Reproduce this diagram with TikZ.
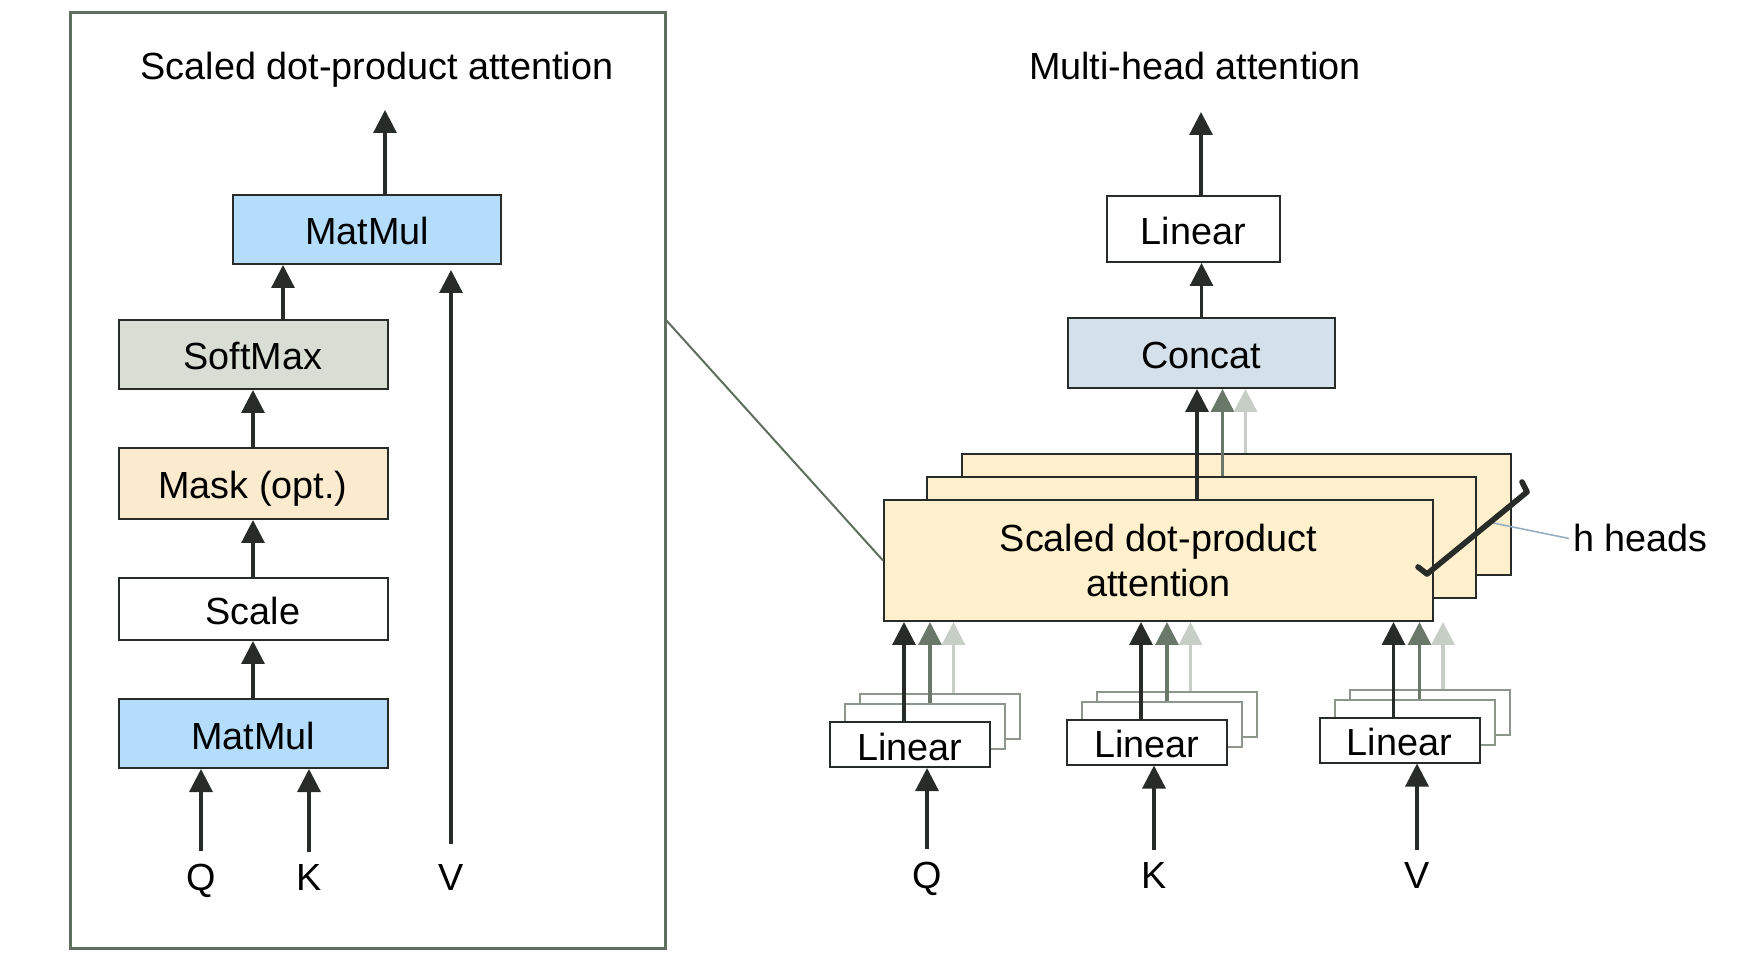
\documentclass[tikz,border=0pt]{standalone}
\usepackage{fontspec}
\setmainfont{Liberation Sans}
\usetikzlibrary{arrows.meta,positioning,calc,backgrounds}
\definecolor{edge}{RGB}{40,44,40}
\definecolor{framegreen}{RGB}{95,110,95}
\definecolor{matblue}{RGB}{180,220,251}
\definecolor{softgray}{RGB}{216,222,212}
\definecolor{maskbeige}{RGB}{250,235,206}
\definecolor{headfill}{RGB}{254,240,205}
\definecolor{concatblue}{RGB}{212,225,234}
\definecolor{midgray}{RGB}{105,120,105}
\definecolor{palegray}{RGB}{198,206,198}
\definecolor{laygray}{RGB}{140,150,140}
\definecolor{hlink}{RGB}{150,175,195}

\begin{document}
\begin{tikzpicture}[
  x=0.5pt, y=-0.5pt, node distance=28.5pt,
  >={Triangle[width=11.5pt,length=11.5pt]},
  font=\fontsize{18.9}{22.5}\selectfont,
  blk/.style={draw=edge, line width=1pt, inner sep=0pt, minimum width=134.5pt,
              minimum height=34.5pt, text height=15.5pt, text depth=0pt},
  lin/.style={blk, fill=white, minimum width=80pt, minimum height=22.5pt},
  lay/.style={lin, draw=laygray},
  hd/.style={draw=edge, line width=1pt, fill=headfill, align=center, inner sep=0pt,
             minimum width=274.5pt, minimum height=60.5pt},
  inl/.style={inner sep=0pt, anchor=base},
  arr/.style={->, line width=1.6pt, draw=edge},
  arrg/.style={arr, draw=midgray},
  arrl/.style={arr, draw=palegray}]
\useasboundingbox (0,0) rectangle (1755,961);

\node[draw=framegreen, line width=1.5pt, inner sep=0pt, minimum width=297.5pt,
      minimum height=467.5pt] (dpframe) at (367.5,480.5) {};
\node[anchor=base] (ttlL) at (377,80) {Scaled dot-product attention};
\node[blk, fill=matblue, minimum width=134pt] (mm2) at (367,229.5) {MatMul};
\node[blk, fill=softgray] (smax) at (253,354.5) {SoftMax};
\node[blk, fill=maskbeige, minimum height=35.5pt, below=of smax] (mask) {Mask (opt.)};
\node[blk, fill=white, minimum height=31pt, below=of mask] (scale) {Scale};
\node[blk, fill=matblue, below=of scale] (mm1) {MatMul};
\node[inl] (ql) at (201,890) {Q};
\node[inl] (kl) at (309,890) {K};
\node[inl] (vl) at (451,890) {V};
\coordinate (outL) at (385,110);
\draw[arr] (mm2.north -| outL) -- (outL);
\draw[arr] ([xshift=15pt]smax.north) -- ([xshift=15pt]smax.north |- mm2.south);
\draw[arr] (mask) -- (smax);
\draw[arr] (scale) -- (mask);
\draw[arr] (mm1) -- (scale);
\draw[arr] ([yshift=6pt]ql.north) -- (ql.north |- mm1.south);
\draw[arr] ([yshift=6pt]kl.north) -- (kl.north |- mm1.south);
\draw[arr, shorten >=2.5pt] ([yshift=10pt]vl.north) -- (vl.north |- mm2.south);

\node[anchor=base] (ttlR) at (1195,80) {Multi-head attention};
\node[blk, fill=white, minimum width=86.5pt, minimum height=33pt] (lintop) at (1193.5,229) {Linear};
\node[blk, fill=concatblue, minimum width=133.5pt, minimum height=35pt] (concat) at (1201.5,353) {Concat};
\node[hd] (sdpa) at (1158.5,560.5) {Scaled dot-product\\attention};
\begin{scope}[on background layer]
  \node[hd] (sdpa3) at ([shift={(78,-46)}]sdpa.center) {};
  \node[hd] (sdpa2) at ([shift={(43,-23)}]sdpa.center) {};
\end{scope}
\coordinate (outR) at (1201,112);
\draw[arr] (lintop.north -| outR) -- (outR);
\draw[arr] (concat.north) -- (concat.north |- lintop.south);
\draw[arr] ([xshift=19.25pt]sdpa.north) -- ([xshift=19.25pt]sdpa.north |- concat.south);
\draw[arrg] ([xshift=10.5pt]sdpa2.north) -- ([xshift=10.5pt]sdpa2.north |- concat.south);
\draw[arrl] ([xshift=4.5pt]sdpa3.north) -- ([xshift=4.5pt]sdpa3.north |- concat.south);

\foreach \n/\x/\y/\o/\s in {q/910/744.5/17/Q, k/1147/742/7/K, v/1399.5/740/17.5/V} {
  \node[lin] (lin\n) at (\x,\y) {Linear};
  \begin{scope}[on background layer]
    \node[lay] (lin\n3) at ([shift={(30,-28)}]lin\n.center) {};
    \node[lay] (lin\n2) at ([shift={(15,-18)}]lin\n.center) {};
  \end{scope}
  \node[inl] (in\n) at (\x+\o,888) {\s};
  \draw[arr] ([yshift=6pt]in\n.north) -- (in\n.north |- lin\n.south);
  \draw[arr] ([xshift=-3pt]lin\n.north) -- ([xshift=-3pt]lin\n.north |- sdpa.south);
  \draw[arrg] ([xshift=2.5pt]lin\n2.north) -- ([xshift=2.5pt]lin\n2.north |- sdpa.south);
  \draw[arrl] ([xshift=6.75pt]lin\n3.north) -- ([xshift=6.75pt]lin\n3.north |- sdpa.south);
}

\coordinate (lk) at (666,320);
\draw[framegreen, line width=1pt] (lk) -- (sdpa.west);

\coordinate (t1) at (1418,567);
\coordinate (t2) at (1427,574);
\coordinate (t3) at (1527,492);
\coordinate (t4) at (1522,482);
\node[anchor=base west, inner sep=2pt] (hh) at (1569,552) {h heads};
\draw[hlink, line width=0.8pt] ($(t2)!0.63!(t3)$) -- (hh.west);
\draw[edge, line width=2.8pt, line join=round, line cap=round] (t1) -- (t2) -- (t3) -- (t4);
\end{tikzpicture}
\end{document}
